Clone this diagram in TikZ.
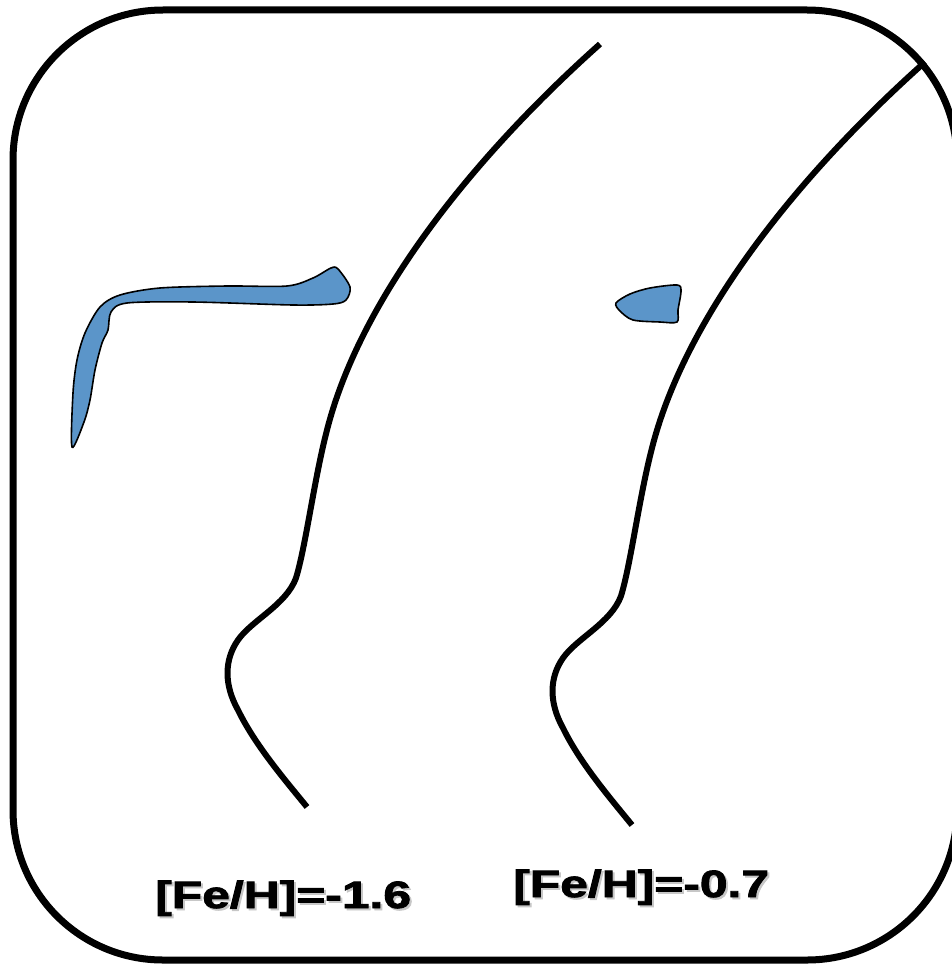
\documentclass[tikz,border=0pt]{standalone}
\usepackage{fontspec}
\setmainfont{Liberation Sans}
\newfontfamily\fehfont{Liberation Sans}[BoldFont={Liberation Sans Bold}, BoldFeatures={FakeBold=2}]
\tikzset{
  frame/.style={line width=7, rounded corners=150},
  track/.style={line width=6, line join=round},
  blob/.style={fill=blobblue, draw=black, line width=1.6},
  feh/.style={anchor=base west, inner sep=0, font=\fehfont\fontsize{38}{38}\selectfont\bfseries},
}
\definecolor{blobblue}{HTML}{5B95C9}
\newcommand{\fehtext}[1]{\scalebox{1.31}[1]{#1}}
\begin{document}
\begin{tikzpicture}[x=1pt,y=-1pt]
  \useasboundingbox (0,0) rectangle (952,966);
  \begin{scope}
    \clip (0,0) rectangle (952,966);
    % outer rounded frame, partly running off the right edge
    \draw[frame] (13,10) rectangle (957,960);

    % two tracks of the same shape, the second one shifted
    \foreach \dx/\dy in {0/0, 325/18}{
      \draw[track, shift={(\dx,\dy)}]
        (600,44) .. controls (470,160) and (360,300) .. (327,430)
                 .. controls (314,480) and (306,545) .. (296,578)
                 .. controls (286,605) and (252,620) .. (238,640)
                 .. controls (224,660) and (224,685) .. (238,710)
                 .. controls (255,745) and (285,780) .. (307,807);
    }

    % blue filled regions
    \draw[blob] plot[smooth cycle, tension=0.5] coordinates {
      (72,447) (73,393) (77,360) (85,333) (100,307) (120,295) (160,288)
      (227,286) (287,286) (313,278) (331,268) (338,269) (350,287) (346,300)
      (333,304) (293,305) (193,302) (127,303) (111,312) (108,330) (102,343)
      (95,370) (90,400) (84,422)};
    \draw[blob] plot[smooth cycle, tension=0.5] coordinates {
      (616,303) (630,294) (650,288) (677,285) (681,291) (678,310) (677,322)
      (660,322) (633,320) (620,311)};
  \end{scope}

  % labels with a soft grey shadow
  \node[feh, text=black!22] (s1) at (157,910) {\fehtext{[Fe/H]=-1.6}};
  \node[feh] (l1) at (155,908) {\fehtext{[Fe/H]=-1.6}};
  \node[feh, text=black!22] (s2) at (515,899) {\fehtext{[Fe/H]=-0.7}};
  \node[feh] (l2) at (513,897) {\fehtext{[Fe/H]=-0.7}};
\end{tikzpicture}
\end{document}
